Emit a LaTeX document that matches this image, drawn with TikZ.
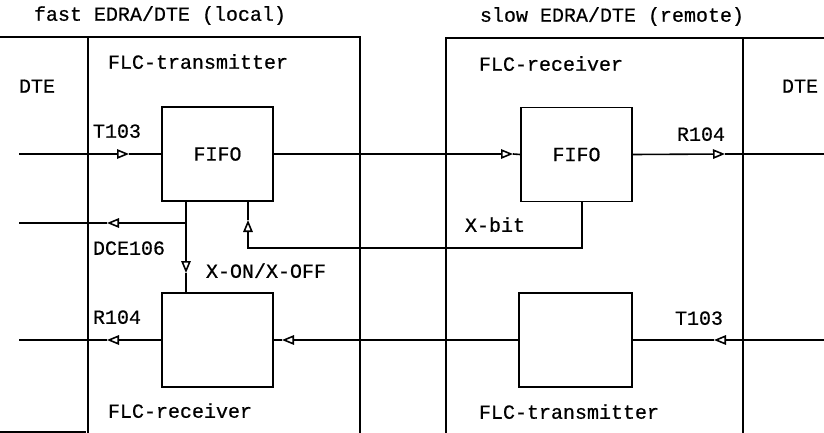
\documentclass[tikz,border=0pt]{standalone}
\usepackage{fontspec}
\setmainfont{Liberation Mono}[FakeBold=0.6]
\usetikzlibrary{arrows.meta}

\tikzset{
  wire/.style={line width=1.6pt},
  tipwire/.style={line width=1.6pt,-{Triangle[open,length=12pt,width=9.5pt]}},
  blk/.style={draw,line width=1.6pt,minimum width=111pt,minimum height=94pt,inner sep=0pt},
  txt/.style={inner sep=0pt,text height=11.5pt,text depth=0pt},
}

\begin{document}
\begin{tikzpicture}[x=1pt,y=-1pt,font=\fontsize{20}{24}\selectfont]
\useasboundingbox (0,0) rectangle (824,433);

% unit frames
\draw[wire] (0,37) -- (360,37) -- (360,433);
\draw[wire] (88,37) -- (88,433);
\draw[wire] (446,433) -- (446,38) -- (824,38);
\draw[wire] (743,38) -- (743,433);
\draw[wire] (0,432) -- (86,432);

% headings
\node[txt] (hfast) at (160,15) {fast EDRA/DTE (local)};
\node[txt] (hslow) at (612,16) {slow EDRA/DTE (remote)};
\node[txt] (dteL) at (37,87) {DTE};
\node[txt] (dteR) at (800,87) {DTE};
\node[txt] (flcTA) at (198,63) {FLC-transmitter};
\node[txt] (flcRB) at (551,65) {FLC-receiver};
\node[txt] (flcRA) at (180,412) {FLC-receiver};
\node[txt] (flcTB) at (569,413) {FLC-transmitter};

% blocks
\node[blk] (fifoA) at (217.5,154) {FIFO};
\node[blk] (fifoB) at (576.5,154.5) {FIFO};
\node[blk] (rxA) at (217.5,340) {};
\node[blk,minimum width=113pt] (txB) at (575.5,340) {};

% free ends, corners and arrow-tip points
\coordinate (inA) at (19,154);
\coordinate (outB) at (824,154);
\coordinate (jA) at (186,223);
\coordinate (outDCE) at (19,223);
\coordinate (xA) at (248,248);
\coordinate (xB) at (582,248);
\coordinate (outR) at (19,340);
\coordinate (inB) at (824,340);
\coordinate (t1) at (129,154);
\coordinate (t2) at (513,154);
\coordinate (t3) at (725,154);
\coordinate (t4) at (107,223);
\coordinate (t5) at (186,273);
\coordinate (t6) at (248,220);
\coordinate (t7) at (107,340);
\coordinate (t8) at (282,340);
\coordinate (t9) at (714,340);

% signal lines
\draw[tipwire] (inA) -- (t1);
\draw[wire] (t1) -- (fifoA.west);
\draw[tipwire] (fifoA.east) -- (t2);
\draw[wire] (t2) -- (fifoB.west);
\draw[tipwire] (fifoB.east) -- (t3);
\draw[wire] (t3) -- (outB);
\draw[tipwire] (jA) -- (t4);
\draw[wire] (t4) -- (outDCE);
\draw[tipwire] (jA |- fifoA.south) -- (t5);
\draw[wire] (t5) -- (jA |- rxA.north);
\draw[tipwire] (xB |- fifoB.south) -- (xB) -- (xA) -- (t6);
\draw[wire] (t6) -- (xA |- fifoA.south);
\draw[tipwire] (rxA.west) -- (t7);
\draw[wire] (t7) -- (outR);
\draw[tipwire] (txB.west) -- (t8);
\draw[wire] (t8) -- (rxA.east);
\draw[tipwire] (inB) -- (t9);
\draw[wire] (t9) -- (txB.east);

% signal labels
\node[txt] (lT103A) at (117,132) {T103};
\node[txt] (lR104B) at (701,135) {R104};
\node[txt] (lDCE) at (129,249) {DCE106};
\node[txt] (lXon) at (266,272) {X-ON/X-OFF};
\node[txt] (lXbit) at (495,226) {X-bit};
\node[txt] (lR104A) at (117,318) {R104};
\node[txt] (lT103B) at (699,319) {T103};
\end{tikzpicture}
\end{document}
